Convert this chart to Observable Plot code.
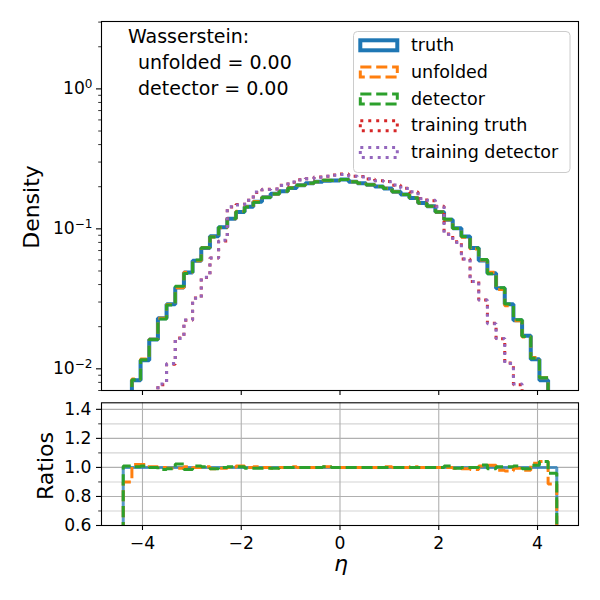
<!DOCTYPE html>
<html><head><meta charset="utf-8">
<script src="https://cdn.jsdelivr.net/npm/d3@7"></script>
<script src="https://cdn.jsdelivr.net/npm/@observablehq/plot@0.6"></script>
<style>
body{margin:0;background:#fff;}
#wrap{position:relative;width:600px;height:600px;background:#fff;font-family:"DejaVu Sans",sans-serif;}
#wrap svg{position:absolute;left:0;overflow:visible;}
</style></head><body><div id="wrap"></div>
<script>
// ---- data ----
const binLo = -4.39, binHi = 4.39, nBins = 50;
const truth = [0.006,0.0083,0.0115,0.0162,0.0230,0.0289,0.0381,0.0488,0.0592,0.0729,
  0.0884,0.1025,0.118,0.132,0.144,0.156,0.168,0.178,0.186,0.196,
  0.205,0.212,0.217,0.221,0.222,
  0.225,0.217,0.212,0.207,0.201,
  0.194,0.184,0.176,0.166,0.153,0.145,0.132,0.116,0.101,0.088,
  0.073,0.0594,0.0482,0.0377,0.0289,0.0222,0.0172,0.0117,0.0083,0.006];
const ratioUnfolded = [0.90,1.02,1.02,1.005,1.00,0.995,0.995,1.005,1.00,1.005,
  0.99,0.995,1.00,1.01,1.00,1.005,1.00,0.995,1.00,1.005,
  1.00,1.00,1.00,1.005,1.00,
  1.00,1.00,1.00,1.00,1.00,1.005,1.00,1.00,1.005,1.00,
  1.00,1.00,1.00,0.995,0.99,
  0.985,1.01,1.015,0.98,0.975,
  0.995,0.98,1.028,1.04,0.885];
const ratioDetector = [1.01,1.005,1.01,1.00,0.985,0.99,1.023,0.985,1.01,1.005,
  0.99,1.00,1.005,1.005,0.995,0.995,0.995,0.995,1.00,1.00,
  1.00,1.00,1.00,1.005,1.00,
  1.00,1.00,1.00,1.00,1.00,1.00,1.00,1.00,1.00,1.00,
  1.00,1.00,1.01,0.995,1.00,
  1.00,1.016,0.99,1.005,1.005,
  1.01,0.99,1.015,1.04,0.96];
const trainingTruth = [0.002,0.003,0.0045,0.0062,0.0077,0.0108,0.0166,0.0222,0.0320,0.0450,
  0.0620,0.082,0.143,0.149,0.160,0.182,0.192,0.193,0.205,0.215,
  0.224,0.228,0.235,0.238,0.243,
  0.247,0.238,0.237,0.227,0.221,
  0.218,0.205,0.195,0.183,0.165,0.159,0.145,0.092,0.081,0.061,
  0.042,0.031,0.0212,0.0164,0.0110,0.0077,0.0055,0.004,0.003,0.002];
const trainingDetector = [0.002,0.003,0.0045,0.0062,0.0078,0.0109,0.0165,0.0223,0.0319,0.0451,
  0.0618,0.083,0.144,0.148,0.160,0.183,0.191,0.193,0.204,0.216,
  0.223,0.228,0.234,0.238,0.242,
  0.245,0.238,0.235,0.228,0.221,
  0.217,0.206,0.194,0.184,0.164,0.160,0.144,0.091,0.080,0.061,
  0.042,0.031,0.021,0.0165,0.0109,0.0078,0.0055,0.004,0.003,0.002];

const xTicks = [-4, -2, 0, 2, 4];
const densityTicks = [0.01, 0.1, 1];
const densityTickExponents = ["\u22122", "\u22121", "0"];
const densityMinorTicks = [0.007,0.008,0.009,0.02,0.03,0.04,0.05,0.06,0.07,0.08,0.09,
  0.2,0.3,0.4,0.5,0.6,0.7,0.8,0.9,2,3];
const ratioTicks = [0.6, 0.8, 1.0, 1.2, 1.4];
const ratioMinorTicks = [0.7, 0.9, 1.1, 1.3];
const legendNames = ["truth", "unfolded", "detector", "training truth", "training detector"];
const wassersteinLines = ["Wasserstein:", "unfolded = 0.00", "detector = 0.00"];

// ---- derived ----
const edges = d3.range(nBins + 1).map(i => binLo + (binHi - binLo) * i / nBins);
const unfolded = truth.map((v, i) => v * ratioUnfolded[i]);
const detector = truth.map((v, i) => v * ratioDetector[i]);
const ratioTruth = truth.map(v => v / v);
function stairs(values, floor) {
  const pts = [{x: edges[0], y: floor}];
  values.forEach((v, i) => { pts.push({x: edges[i], y: v}, {x: edges[i + 1], y: v}); });
  pts.push({x: edges[nBins], y: floor});
  return pts;
}
const styles = {
  "truth": {stroke: "#1f77b4", strokeWidth: 4},
  "unfolded": {stroke: "#ff7f0e", strokeWidth: 3, strokeDasharray: "11.1,4.8"},
  "detector": {stroke: "#2ca02c", strokeWidth: 3, strokeDasharray: "11.1,4.8"},
  "training truth": {stroke: "#d62728", strokeWidth: 3, strokeDasharray: "3,4.95"},
  "training detector": {stroke: "#9467bd", strokeWidth: 3, strokeDasharray: "3,4.95"}
};
const lineOpts = s => ({x: "x", y: "y", ...styles[s], strokeLinejoin: "miter", strokeLinecap: "butt", clip: true});
const fmtX = d => d < 0 ? "\u2212" + Math.abs(d) : String(d);
const fmtDensity = d => "10" + densityTickExponents[densityTicks.indexOf(d)];
const xDomain = [-4.83, 4.83];
const TICK_FONT = 17.2;
const font = {fontFamily: "DejaVu Sans", fontSize: TICK_FONT + "px", color: "black", overflow: "visible"};

// ---- top panel ----
const topPlot = Plot.plot({
  width: 600, height: 395,
  marginLeft: 101, marginRight: 22, marginTop: 21, marginBottom: 5,
  style: font,
  x: {domain: xDomain, axis: null},
  y: {type: "log", domain: [0.0070, 3.03], axis: null},
  marks: [
    Plot.line(stairs(truth, 1e-4), lineOpts("truth")),
    Plot.line(stairs(unfolded, 1e-4), lineOpts("unfolded")),
    Plot.line(stairs(detector, 1e-4), lineOpts("detector")),
    Plot.line(stairs(trainingTruth, 1e-4), lineOpts("training truth")),
    Plot.line(stairs(trainingDetector, 1e-4), lineOpts("training detector")),
    Plot.axisY(densityTicks, {anchor: "left", tickSize: 5, tickPadding: 4, tickFormat: fmtDensity, fontSize: TICK_FONT, label: null, strokeWidth: 1.1}),
    Plot.axisY(densityMinorTicks, {anchor: "left", tickSize: 2.8, fill: "none", label: null, strokeWidth: 0.8}),
    Plot.axisX(xTicks, {anchor: "bottom", tickSize: 5, fill: "none", label: null, strokeWidth: 1.1}),
    Plot.frame({stroke: "black", strokeWidth: 1.1})
  ]
});
topPlot.style.top = "0px";

// ---- bottom panel ----
const botPlot = Plot.plot({
  width: 600, height: 205,
  marginLeft: 101, marginRight: 22, marginTop: 7.3, marginBottom: 75,
  style: font,
  x: {domain: xDomain, axis: null},
  y: {domain: [0.6, 1.445], axis: null},
  marks: [
    Plot.gridY(ratioMinorTicks, {stroke: "#d4d4d4", strokeOpacity: 1, strokeWidth: 1.1}),
    Plot.gridY(ratioTicks, {stroke: "#b0b0b0", strokeOpacity: 1, strokeWidth: 1.1}),
    Plot.gridX(xTicks, {stroke: "#b0b0b0", strokeOpacity: 1, strokeWidth: 1.1}),
    Plot.line(stairs(ratioTruth, 0), {...lineOpts("truth"), strokeWidth: 3, strokeOpacity: 0.75}),
    Plot.line(stairs(ratioUnfolded, 0), lineOpts("unfolded")),
    Plot.line(stairs(ratioDetector, 0), lineOpts("detector")),
    Plot.axisY(ratioTicks, {anchor: "left", tickSize: 5, tickPadding: 5, tickFormat: d3.format(".1f"), fontSize: TICK_FONT, label: null, strokeWidth: 1.1}),
    Plot.axisY(ratioMinorTicks, {anchor: "left", tickSize: 2.8, fill: "none", label: null, strokeWidth: 0.8}),
    Plot.axisX(xTicks, {anchor: "bottom", tickSize: 5, tickPadding: 6, tickFormat: fmtX, fontSize: TICK_FONT, label: null, strokeWidth: 1.1}),
    Plot.frame({stroke: "black", strokeWidth: 1.1})
  ]
});
botPlot.style.top = "395px";

const wrap = document.getElementById("wrap");
wrap.appendChild(topPlot);
wrap.appendChild(botPlot);

// ---- superscript exponents on the log tick labels ----
const st = d3.select(topPlot);
st.selectAll("text").each(function() {
  const t = this.textContent;
  const k = densityTickExponents.findIndex(e => t === "10" + e);
  if (k < 0) return;
  const el = d3.select(this);
  el.text(null);
  el.append("tspan").text("10");
  el.append("tspan").attr("font-size", "70%").attr("dy", "-6.7px").text(densityTickExponents[k]);
});

// ---- annotations ----
st.append("text").attr("transform", "translate(38.5,207) rotate(-90)")
  .attr("text-anchor", "middle").attr("font-size", "22px").attr("fill", "black").text("Density");
const wt = st.append("g").attr("font-size", "19px").attr("fill", "black").attr("text-anchor", "start");
wassersteinLines.forEach((t, i) => {
  wt.append("text").attr("x", i === 0 ? 128 : 138).attr("y", 43.3 + i * 26).attr("text-anchor", "start").text(t);
});
const lg = st.append("g").attr("text-anchor", "start");
lg.append("rect").attr("x", 353.5).attr("y", 31.5).attr("width", 216.5).attr("height", 141)
  .attr("rx", 4).attr("fill", "white").attr("fill-opacity", 0.8).attr("stroke", "#cccccc").attr("stroke-width", 1);
legendNames.forEach((name, i) => {
  const cy = 45.3 + i * 26.8, s = styles[name];
  lg.append("rect").attr("x", 360.3).attr("y", cy - 5).attr("width", 37).attr("height", 10)
    .attr("fill", "none").attr("stroke", s.stroke).attr("stroke-width", s.strokeWidth)
    .attr("stroke-dasharray", s.strokeDasharray || null).attr("stroke-linejoin", "miter");
  lg.append("text").attr("x", 411).attr("y", cy + 5.6).attr("text-anchor", "start")
    .attr("font-size", "17.5px").attr("fill", "black").text(name);
});
const sb = d3.select(botPlot);
sb.append("text").attr("transform", "translate(53,71) rotate(-90)")
  .attr("text-anchor", "middle").attr("font-size", "22px").attr("fill", "black").text("Ratios");
sb.append("text").attr("x", 341).attr("y", 176).attr("text-anchor", "middle")
  .attr("font-size", "22px").attr("font-style", "italic").attr("fill", "black").text("\u03B7");
</script></body></html>
